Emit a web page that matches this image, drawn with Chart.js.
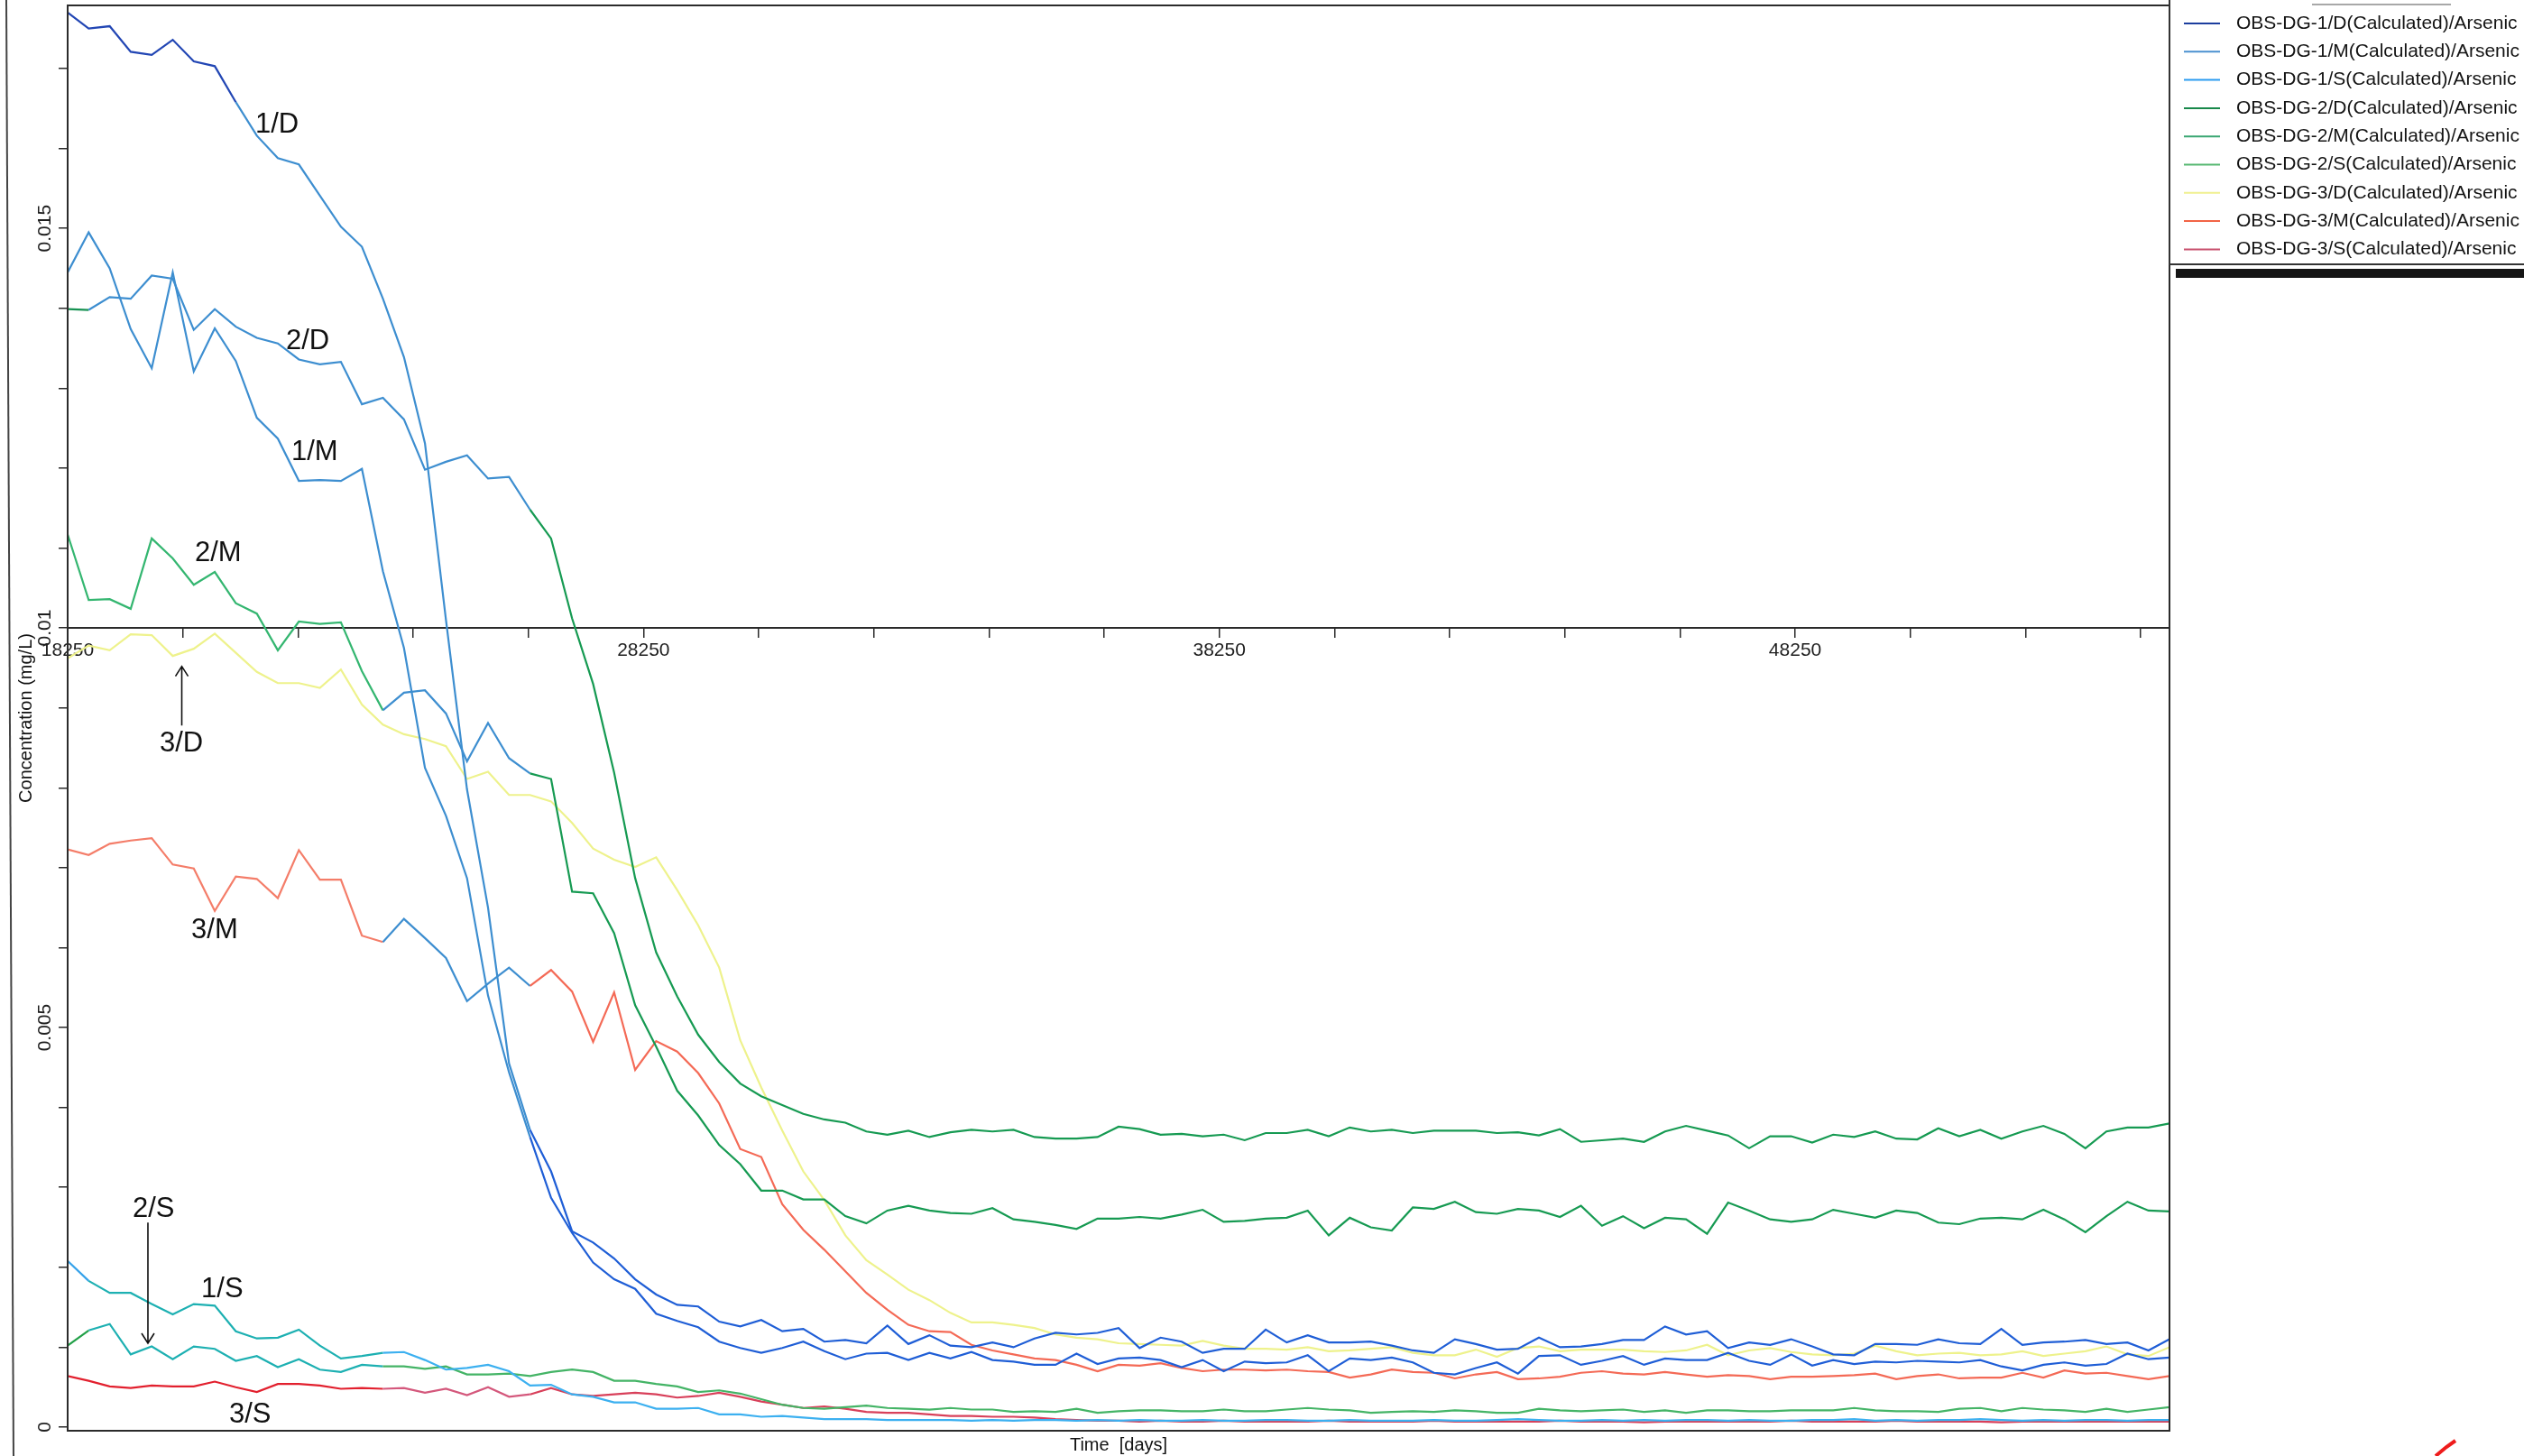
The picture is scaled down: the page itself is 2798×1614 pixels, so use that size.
<!DOCTYPE html>
<html>
<head>
<meta charset="utf-8">
<title>OBS-DG Arsenic</title>
<script src="https://cdn.jsdelivr.net/npm/chart.js@4.4.1/dist/chart.umd.min.js"></script>
<style>
  html, body { margin: 0; padding: 0; background: #fff; }
  #wrap { width: 2798px; height: 1614px; }
</style>
</head>
<body>
<div id="wrap"><canvas id="chart" width="2798" height="1614"></canvas></div>
<script>
// output times (days), one per year from 18250 to 54750
const days = Array.from({ length: 101 }, (_, i) => 18250 + 365 * i);

// arsenic concentration per observation point, in ug/L (plotted as mg/L)
const conc1D = [17.70, 17.50, 17.53, 17.21, 17.17, 17.36, 17.09, 17.03, 16.58, 16.16,
  15.88, 15.80, 15.41, 15.02, 14.77, 14.12, 13.39, 12.31, 10.10, 7.98,
  6.50, 4.55, 3.72, 3.20, 2.45, 2.31, 2.11, 1.85, 1.66, 1.53,
  1.51, 1.32, 1.26, 1.34, 1.20, 1.23, 1.07, 1.09, 1.05, 1.27,
  1.04, 1.15, 1.02, 1.00, 1.06, 1.00, 1.11, 1.18, 1.16, 1.18,
  1.24, 0.99, 1.12, 1.07, 0.93, 0.98, 0.98, 1.22, 1.06, 1.15,
  1.06, 1.06, 1.07, 1.02, 0.96, 0.93, 1.10, 1.04, 0.97, 0.98,
  1.12, 1.00, 1.01, 1.04, 1.09, 1.09, 1.26, 1.16, 1.20, 0.99,
  1.06, 1.03, 1.10, 1.01, 0.91, 0.90, 1.04, 1.04, 1.03, 1.10,
  1.05, 1.04, 1.23, 1.03, 1.06, 1.07, 1.09, 1.04, 1.06, 0.96,
  1.10];
const conc1M = [14.45, 14.95, 14.50, 13.74, 13.25, 14.45, 13.21, 13.75, 13.34, 12.63,
  12.37, 11.84, 11.85, 11.84, 11.99, 10.71, 9.75, 8.25, 7.65, 6.87,
  5.40, 4.44, 3.63, 2.87, 2.43, 2.06, 1.85, 1.73, 1.42, 1.33,
  1.25, 1.07, 0.99, 0.93, 0.99, 1.07, 0.95, 0.85, 0.92, 0.93,
  0.84, 0.93, 0.86, 0.94, 0.84, 0.82, 0.78, 0.78, 0.92, 0.79,
  0.86, 0.87, 0.84, 0.75, 0.84, 0.70, 0.82, 0.80, 0.81, 0.90,
  0.70, 0.86, 0.84, 0.87, 0.81, 0.68, 0.66, 0.74, 0.81, 0.67,
  0.89, 0.90, 0.78, 0.83, 0.89, 0.78, 0.86, 0.84, 0.84, 0.93,
  0.83, 0.78, 0.91, 0.77, 0.84, 0.79, 0.82, 0.81, 0.83, 0.82,
  0.81, 0.84, 0.76, 0.71, 0.78, 0.81, 0.77, 0.79, 0.92, 0.85,
  0.87];
const conc1S = [2.08, 1.83, 1.68, 1.68, 1.54, 1.41, 1.54, 1.52, 1.20, 1.11,
  1.12, 1.22, 1.02, 0.86, 0.89, 0.93, 0.94, 0.84, 0.72, 0.74,
  0.78, 0.70, 0.52, 0.53, 0.41, 0.38, 0.31, 0.31, 0.23, 0.23,
  0.24, 0.16, 0.16, 0.13, 0.14, 0.12, 0.10, 0.10, 0.10, 0.09,
  0.09, 0.09, 0.09, 0.08, 0.09, 0.08, 0.09, 0.09, 0.08, 0.09,
  0.08, 0.09, 0.08, 0.08, 0.09, 0.08, 0.08, 0.09, 0.09, 0.08,
  0.08, 0.09, 0.08, 0.08, 0.08, 0.09, 0.08, 0.08, 0.09, 0.10,
  0.09, 0.08, 0.08, 0.09, 0.08, 0.09, 0.08, 0.09, 0.09, 0.08,
  0.09, 0.08, 0.08, 0.09, 0.09, 0.10, 0.08, 0.09, 0.08, 0.09,
  0.09, 0.10, 0.09, 0.08, 0.09, 0.08, 0.09, 0.09, 0.08, 0.09,
  0.09];
const conc2D = [13.99, 13.98, 14.14, 14.12, 14.41, 14.37, 13.73, 13.99, 13.77, 13.63,
  13.56, 13.36, 13.30, 13.33, 12.80, 12.88, 12.61, 11.98, 12.08, 12.16,
  11.87, 11.89, 11.48, 11.12, 10.12, 9.30, 8.19, 6.87, 5.94, 5.39,
  4.91, 4.57, 4.30, 4.14, 4.03, 3.92, 3.85, 3.81, 3.70, 3.66,
  3.71, 3.63, 3.69, 3.72, 3.70, 3.72, 3.63, 3.61, 3.61, 3.63,
  3.76, 3.73, 3.66, 3.67, 3.64, 3.66, 3.59, 3.68, 3.68, 3.72,
  3.64, 3.75, 3.70, 3.72, 3.68, 3.71, 3.71, 3.71, 3.68, 3.69,
  3.65, 3.73, 3.57, 3.59, 3.61, 3.57, 3.70, 3.77, 3.71, 3.65,
  3.49, 3.64, 3.64, 3.56, 3.66, 3.63, 3.70, 3.61, 3.60, 3.74,
  3.64, 3.72, 3.61, 3.70, 3.77, 3.67, 3.49, 3.70, 3.75, 3.75,
  3.80];
const conc2M = [11.17, 10.35, 10.36, 10.24, 11.12, 10.87, 10.54, 10.70, 10.31, 10.18,
  9.72, 10.08, 10.05, 10.07, 9.46, 8.97, 9.19, 9.22, 8.93, 8.33,
  8.81, 8.37, 8.18, 8.11, 6.70, 6.68, 6.18, 5.28, 4.76, 4.21,
  3.90, 3.53, 3.29, 2.96, 2.96, 2.85, 2.85, 2.64, 2.55, 2.71,
  2.77, 2.71, 2.68, 2.67, 2.74, 2.60, 2.57, 2.53, 2.48, 2.61,
  2.61, 2.63, 2.61, 2.66, 2.72, 2.57, 2.58, 2.61, 2.62, 2.71,
  2.40, 2.62, 2.50, 2.46, 2.75, 2.73, 2.82, 2.69, 2.67, 2.73,
  2.71, 2.63, 2.77, 2.52, 2.64, 2.49, 2.62, 2.60, 2.42, 2.81,
  2.71, 2.60, 2.57, 2.60, 2.72, 2.67, 2.62, 2.71, 2.68, 2.56,
  2.54, 2.61, 2.62, 2.60, 2.72, 2.60, 2.44, 2.64, 2.82, 2.71,
  2.70];
const conc2S = [1.02, 1.21, 1.29, 0.91, 1.01, 0.85, 1.01, 0.98, 0.83, 0.89,
  0.75, 0.85, 0.72, 0.69, 0.78, 0.76, 0.76, 0.73, 0.76, 0.66,
  0.66, 0.67, 0.64, 0.69, 0.72, 0.69, 0.58, 0.58, 0.54, 0.51,
  0.44, 0.46, 0.42, 0.35, 0.28, 0.24, 0.23, 0.25, 0.27, 0.24,
  0.23, 0.22, 0.24, 0.22, 0.22, 0.19, 0.20, 0.19, 0.23, 0.18,
  0.20, 0.21, 0.21, 0.20, 0.20, 0.22, 0.20, 0.20, 0.22, 0.24,
  0.22, 0.21, 0.18, 0.19, 0.20, 0.19, 0.21, 0.20, 0.18, 0.18,
  0.23, 0.21, 0.20, 0.21, 0.22, 0.19, 0.21, 0.18, 0.21, 0.21,
  0.20, 0.20, 0.21, 0.21, 0.21, 0.24, 0.21, 0.20, 0.20, 0.19,
  0.23, 0.24, 0.20, 0.24, 0.22, 0.21, 0.19, 0.23, 0.19, 0.22,
  0.25];
const conc3D = [9.62, 9.78, 9.72, 9.92, 9.91, 9.65, 9.74, 9.93, 9.69, 9.45,
  9.31, 9.31, 9.25, 9.48, 9.04, 8.79, 8.67, 8.61, 8.52, 8.11,
  8.20, 7.91, 7.91, 7.83, 7.56, 7.24, 7.10, 7.01, 7.13, 6.72,
  6.28, 5.75, 4.84, 4.25, 3.71, 3.20, 2.84, 2.40, 2.09, 1.91,
  1.72, 1.59, 1.43, 1.31, 1.31, 1.28, 1.24, 1.16, 1.12, 1.10,
  1.05, 1.04, 1.03, 1.02, 1.08, 1.02, 0.98, 0.98, 0.97, 1.00,
  0.95, 0.96, 0.98, 1.00, 0.93, 0.90, 0.90, 0.97, 0.88, 0.99,
  1.01, 0.95, 0.97, 0.97, 0.97, 0.95, 0.94, 0.96, 1.03, 0.90,
  0.96, 0.99, 0.94, 0.91, 0.90, 0.92, 1.02, 0.95, 0.90, 0.92,
  0.93, 0.90, 0.91, 0.95, 0.89, 0.92, 0.95, 1.01, 0.91, 0.89,
  1.00];
const conc3M = [7.23, 7.16, 7.30, 7.34, 7.37, 7.04, 6.99, 6.46, 6.89, 6.86,
  6.62, 7.22, 6.85, 6.85, 6.15, 6.07, 6.36, 6.12, 5.87, 5.33,
  5.55, 5.75, 5.52, 5.72, 5.45, 4.82, 5.44, 4.47, 4.83, 4.70,
  4.43, 4.05, 3.48, 3.38, 2.79, 2.47, 2.22, 1.95, 1.68, 1.47,
  1.28, 1.20, 1.19, 1.03, 0.96, 0.91, 0.86, 0.84, 0.78, 0.70,
  0.78, 0.77, 0.80, 0.74, 0.70, 0.72, 0.72, 0.71, 0.72, 0.70,
  0.69, 0.62, 0.66, 0.72, 0.69, 0.68, 0.61, 0.66, 0.69, 0.60,
  0.61, 0.63, 0.68, 0.70, 0.67, 0.66, 0.69, 0.66, 0.63, 0.65,
  0.64, 0.60, 0.63, 0.63, 0.64, 0.65, 0.67, 0.60, 0.64, 0.66,
  0.61, 0.62, 0.62, 0.68, 0.62, 0.71, 0.67, 0.68, 0.64, 0.60,
  0.64];
const conc3S = [0.64, 0.58, 0.51, 0.49, 0.52, 0.51, 0.51, 0.57, 0.50, 0.44,
  0.54, 0.54, 0.52, 0.48, 0.49, 0.48, 0.49, 0.43, 0.48, 0.40,
  0.50, 0.38, 0.41, 0.49, 0.41, 0.39, 0.41, 0.43, 0.41, 0.37,
  0.39, 0.43, 0.38, 0.32, 0.28, 0.24, 0.26, 0.23, 0.19, 0.18,
  0.18, 0.16, 0.14, 0.14, 0.13, 0.13, 0.12, 0.10, 0.09, 0.08,
  0.08, 0.07, 0.08, 0.07, 0.07, 0.08, 0.07, 0.07, 0.07, 0.07,
  0.08, 0.07, 0.07, 0.07, 0.07, 0.08, 0.07, 0.07, 0.07, 0.07,
  0.07, 0.08, 0.07, 0.07, 0.07, 0.06, 0.07, 0.07, 0.07, 0.07,
  0.07, 0.07, 0.08, 0.07, 0.07, 0.07, 0.07, 0.08, 0.07, 0.07,
  0.07, 0.07, 0.06, 0.07, 0.07, 0.07, 0.07, 0.07, 0.07, 0.07,
  0.07];

// axis ticks
const xTicks = [18250, 20250, 22250, 24250, 26250, 28250, 30250, 32250, 34250, 36250,
  38250, 40250, 42250, 44250, 46250, 48250, 50250, 52250, 54250];
const xLabels = [18250, 28250, 38250, 48250];
const yTicks = [0, 0.001, 0.002, 0.003, 0.004, 0.005, 0.006, 0.007, 0.008, 0.009,
  0.01, 0.011, 0.012, 0.013, 0.014, 0.015, 0.016, 0.017];
const yLabels = [0, 0.005, 0.01, 0.015];

// curve tags and arrows, in data coordinates
const notes = [
  { text: '1/D', day: 21508, conc: 0.01620 },
  { text: '2/D', day: 22041, conc: 0.01349 },
  { text: '1/M', day: 22135, conc: 0.01210 },
  { text: '2/M', day: 20459, conc: 0.01084 },
  { text: '3/D', day: 19848, conc: 0.00846 },
  { text: '3/M', day: 20397, conc: 0.00612 },
  { text: '2/S', day: 19378, conc: 0.00263 },
  { text: '1/S', day: 20569, conc: 0.00163 },
  { text: '3/S', day: 21054, conc: 0.00006 }
];
const arrows = [
  { day: 20232, from: 0.00878, to: 0.00952 },
  { day: 19644, from: 0.00256, to: 0.00105 }
];

// the print shifts hue in vertical bands; colour changes at these days
const B1 = 18700, B2 = 21300, B3 = 23830, B4 = 26380;
const BLUE_PRINT = '#3d8ed0';
const series = [
  { name: '1/D', values: conc1D, color: '#1c3e9e',
    bands: [[B2, '#2246b4'], [B4, BLUE_PRINT], [Infinity, '#1f5ed6']] },
  { name: '1/M', values: conc1M, color: '#4a90d0',
    bands: [[B4, BLUE_PRINT], [Infinity, '#1f5ed6']] },
  { name: '1/S', values: conc1S, color: '#2a9cf0',
    bands: [[B1, '#36a2ea'], [B3, '#1db0b2'], [Infinity, '#3cb0f0']] },
  { name: '2/D', values: conc2D, color: '#18884a',
    bands: [[B1, '#179252'], [B4, BLUE_PRINT], [Infinity, '#169a52']] },
  { name: '2/M', values: conc2M, color: '#3aa672',
    bands: [[B3, '#34b670'], [B4, BLUE_PRINT], [Infinity, '#169a52']] },
  { name: '2/S', values: conc2S, color: '#56b872',
    bands: [[B1, '#22a048'], [B3, '#1db0b2'], [Infinity, '#44b466']] },
  { name: '3/D', values: conc3D, color: '#f0f090',
    bands: [[Infinity, '#eef28c']] },
  { name: '3/M', values: conc3M, color: '#f26446',
    bands: [[B3, '#f47d69'], [B4, BLUE_PRINT], [Infinity, '#f46a56']] },
  { name: '3/S', values: conc3S, color: '#c8506e',
    bands: [[B3, '#e2202e'], [B4, '#d4587c'], [Infinity, '#d8405a']] }
];

const FONT = '"Liberation Sans", Arial, Helvetica, sans-serif';
const INK = '#1e1e1e';
Chart.defaults.font.family = FONT;

function bandColor(bands) {
  return ctx => {
    const mid = (ctx.p0.parsed.x + ctx.p1.parsed.x) / 2;
    return bands.find(b => mid < b[0])[1];
  };
}

const datasets = series.map(s => ({
  label: 'OBS-DG-' + s.name + '(Calculated)/Arsenic',
  data: s.values.map((v, i) => ({ x: days[i], y: v / 1000 })),
  borderColor: s.color,
  backgroundColor: s.color,
  borderWidth: 2.2,
  pointRadius: 0,
  tension: 0,
  fill: false,
  xAxisID: 'x',
  yAxisID: 'y',
  segment: { borderColor: bandColor(s.bands) }
}));

// frame, legend box, tags and page marks
const decorations = {
  id: 'decorations',
  beforeDraw(chart) {
    const { ctx, width, height } = chart;
    ctx.save();
    ctx.fillStyle = '#ffffff';
    ctx.fillRect(0, 0, width, height);
    ctx.restore();
  },
  afterDraw(chart) {
    const { ctx, chartArea: a, scales: { x, y }, width, height } = chart;
    ctx.save();

    ctx.strokeStyle = '#2b2b2b';
    ctx.lineWidth = 2;
    ctx.strokeRect(a.left, a.top, a.right - a.left, a.bottom - a.top);

    ctx.fillStyle = '#111';
    ctx.font = '31px ' + FONT;
    ctx.textBaseline = 'alphabetic';
    ctx.textAlign = 'left';
    notes.forEach(n => ctx.fillText(n.text, x.getPixelForValue(n.day), y.getPixelForValue(n.conc)));

    ctx.strokeStyle = '#111';
    ctx.lineWidth = 1.6;
    arrows.forEach(ar => {
      const px = x.getPixelForValue(ar.day);
      const y0 = y.getPixelForValue(ar.from);
      const y1 = y.getPixelForValue(ar.to);
      const dir = Math.sign(y1 - y0);
      ctx.beginPath();
      ctx.moveTo(px, y0);
      ctx.lineTo(px, y1);
      ctx.moveTo(px - 7, y1 - dir * 11);
      ctx.lineTo(px, y1);
      ctx.lineTo(px + 7, y1 - dir * 11);
      ctx.stroke();
    });

    // legend
    const lx = a.right;
    ctx.strokeStyle = '#333';
    ctx.lineWidth = 2;
    ctx.beginPath();
    ctx.moveTo(lx, 0);
    ctx.lineTo(lx, 293);
    ctx.lineTo(width, 293);
    ctx.stroke();
    ctx.fillStyle = '#151515';
    ctx.fillRect(lx + 7, 298, width - lx - 7, 10);
    ctx.strokeStyle = '#a8a8a8';
    ctx.beginPath();
    ctx.moveTo(lx + 158, 5);
    ctx.lineTo(lx + 312, 5);
    ctx.stroke();

    ctx.font = '21px ' + FONT;
    ctx.textBaseline = 'middle';
    chart.data.datasets.forEach((ds, i) => {
      const ly = 26 + i * 31.3;
      ctx.strokeStyle = ds.borderColor;
      ctx.lineWidth = 2;
      ctx.beginPath();
      ctx.moveTo(lx + 16, ly);
      ctx.lineTo(lx + 56, ly);
      ctx.stroke();
      ctx.fillStyle = '#141414';
      ctx.fillText(ds.label, lx + 74, ly);
    });

    // sheet edge and pen tick
    ctx.strokeStyle = '#444';
    ctx.lineWidth = 2;
    ctx.beginPath();
    ctx.moveTo(7, 0);
    ctx.lineTo(15, height);
    ctx.stroke();
    ctx.strokeStyle = '#ee1c1c';
    ctx.lineWidth = 4;
    ctx.beginPath();
    ctx.moveTo(2700, height);
    ctx.lineTo(2712, 1604);
    ctx.lineTo(2722, 1597);
    ctx.stroke();

    ctx.restore();
  }
};

new Chart(document.getElementById('chart'), {
  type: 'line',
  data: { datasets },
  options: {
    responsive: false,
    animation: false,
    devicePixelRatio: 1,
    events: [],
    layout: { padding: { top: 6, right: 393, bottom: 0, left: 0 } },
    plugins: { legend: { display: false }, tooltip: { enabled: false } },
    scales: {
      x: {
        type: 'linear',
        position: { y: 0.01 },
        min: 18250,
        max: 54750,
        afterBuildTicks: s => { s.ticks = xTicks.map(v => ({ value: v })); },
        ticks: {
          autoSkip: false,
          minRotation: 0,
          maxRotation: 0,
          padding: 2,
          color: INK,
          font: { size: 21 },
          callback: v => xLabels.includes(v) ? String(v) : ''
        },
        grid: { drawOnChartArea: false, tickLength: 10, color: '#2a2a2a', lineWidth: 1.5 },
        border: { color: '#2a2a2a', width: 2 }
      },
      x2: {
        type: 'linear',
        position: 'bottom',
        min: 18250,
        max: 54750,
        ticks: { display: false },
        grid: { display: false, drawTicks: false },
        border: { display: false },
        title: {
          display: true,
          text: 'Time  [days]',
          color: '#111',
          font: { size: 20 },
          padding: { top: 4, bottom: 0 }
        }
      },
      y: {
        type: 'linear',
        position: 'left',
        min: -0.000045,
        max: 0.01779,
        afterBuildTicks: s => { s.ticks = yTicks.map(v => ({ value: v })); },
        afterFit: s => { s.width = 75; },
        ticks: {
          autoSkip: false,
          minRotation: 90,
          maxRotation: 90,
          crossAlign: 'center',
          padding: -11,
          color: INK,
          font: { size: 21 },
          callback: v => yLabels.includes(v) ? String(v) : ''
        },
        grid: { drawOnChartArea: false, tickLength: 10, color: '#2a2a2a', lineWidth: 1.5 },
        border: { color: '#2a2a2a', width: 2 },
        title: {
          display: true,
          text: 'Concentration (mg/L)',
          color: '#111',
          font: { size: 20 },
          padding: { top: 17, bottom: 0 }
        }
      }
    }
  },
  plugins: [decorations]
});
</script>
</body>
</html>
